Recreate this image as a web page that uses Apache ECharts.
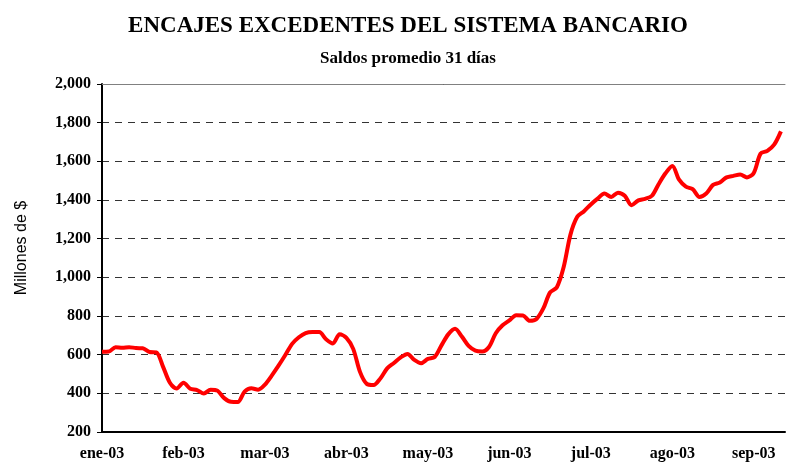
<!DOCTYPE html>
<html>
<head>
<meta charset="utf-8">
<script src="https://cdn.jsdelivr.net/npm/echarts@6/dist/echarts.min.js"></script>
<style>html,body{margin:0;padding:0;background:#fff}#c{width:786px;height:465px}</style>
</head>
<body>
<div id="c"></div>
<script>
var titleText = 'ENCAJES EXCEDENTES DEL SISTEMA BANCARIO';
var subtitleText = 'Saldos promedio 31 días';
var yAxisName = 'Millones de $';
var monthLabels = ['ene-03','feb-03','mar-03','abr-03','may-03','jun-03','jul-03','ago-03','sep-03'];
var pointsPerMonth = 12;
var yTicks = [200, 400, 600, 800, 1000, 1200, 1400, 1600, 1800, 2000];
var encajes = [
  615, 616, 639, 636, 639, 634, 633, 614, 612, 537,
  455, 425, 455, 424, 417, 399, 419, 414, 375, 356,
  355, 409, 426, 419, 445, 492, 543, 598, 656, 690,
  712, 717, 717, 680, 658, 705, 687, 630, 511, 449,
  443, 477, 529, 557, 586, 604, 573, 556, 578, 588,
  648, 705, 734, 694, 645, 621, 617, 640, 711, 752,
  777, 804, 803, 775, 785, 839, 922, 949, 1053, 1221,
  1313, 1342, 1377, 1407, 1433, 1416, 1438, 1422, 1373, 1398,
  1406, 1422, 1483, 1538, 1576, 1505, 1469, 1456, 1416, 1434,
  1478, 1491, 1517, 1525, 1532, 1517, 1540, 1640, 1654, 1686,
  1755
];

var seriesData = encajes.map(function (v, i) { return [i, v]; });
var xMax = 100.6;
var serif = '"Liberation Serif", "Times New Roman", serif';

var chart = echarts.init(document.getElementById('c'), null, {renderer: 'canvas'});
chart.setOption({
  animation: false,
  backgroundColor: '#ffffff',
  title: [
    {text: titleText, left: 403, top: 10, textAlign: 'center',
     textStyle: {fontFamily: serif, fontWeight: 'bold', fontSize: 23, color: '#000'}},
    {text: subtitleText, left: 403, top: 45, textAlign: 'center',
     textStyle: {fontFamily: serif, fontWeight: 'bold', fontSize: 17, color: '#000'}}
  ],
  grid: {left: 102, top: 84, right: 1, bottom: 33, containLabel: false},
  xAxis: [
    {
      type: 'value', min: 0, max: xMax, interval: pointsPerMonth,
      axisLine: {show: true, onZero: false, lineStyle: {color: '#000', width: 2}},
      axisTick: {show: false},
      splitLine: {show: false},
      axisLabel: {
        margin: 14,
        fontFamily: serif, fontWeight: 'bold', fontSize: 16, color: '#000',
        showMaxLabel: false,
        formatter: function (v) {
          var m = v / pointsPerMonth;
          return (Math.abs(m - Math.round(m)) < 1e-6 && monthLabels[Math.round(m)]) ? monthLabels[Math.round(m)] : '';
        }
      }
    },
    {
      type: 'value', position: 'top', min: 0, max: xMax,
      axisLine: {show: true, onZero: false, lineStyle: {color: '#808080', width: 1}},
      axisTick: {show: false}, axisLabel: {show: false}, splitLine: {show: false}
    }
  ],
  yAxis: {
    type: 'value', min: yTicks[0], max: yTicks[yTicks.length - 1], interval: 200,
    name: yAxisName, nameLocation: 'middle', nameGap: 72, nameRotate: 90,
    nameTextStyle: {fontFamily: '"Liberation Sans", Arial, sans-serif', fontSize: 16, color: '#000', padding: [0, 0, 0, 20]},
    axisLine: {show: true, lineStyle: {color: '#000', width: 2}},
    axisTick: {show: true, inside: false, length: 5, lineStyle: {color: '#000', width: 1}},
    axisLabel: {
      margin: 11,
      fontFamily: serif, fontWeight: 'bold', fontSize: 16, color: '#000',
      formatter: function (v) { return v.toLocaleString('en-US'); }
    },
    splitLine: {show: true, lineStyle: {color: '#333', width: 1, type: [7, 6]}}
  },
  series: [{
    type: 'line', xAxisIndex: 0, data: seriesData, showSymbol: false, smooth: 0.3,
    lineStyle: {color: '#ff0000', width: 4}, itemStyle: {color: '#ff0000'}
  }]
});
</script>
</body>
</html>
